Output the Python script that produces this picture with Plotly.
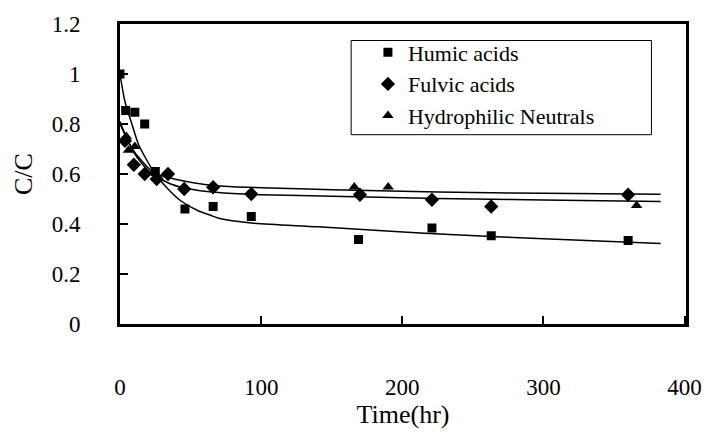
import plotly.graph_objects as go

# ---- measured data ----
humic_x = [0, 4, 10.5, 17.5, 25, 46, 66, 93, 169, 221, 263, 360]
humic_y = [1.0, 0.854, 0.847, 0.80, 0.61, 0.46, 0.47, 0.43, 0.338, 0.384, 0.353, 0.334]

fulvic_x = [3.5, 9.8, 17.5, 26, 34, 45.5, 66, 93, 170, 221, 263, 360]
fulvic_y = [0.733, 0.637, 0.60, 0.58, 0.60, 0.54, 0.547, 0.52, 0.517, 0.497, 0.47, 0.517]

neutral_x = [4.5, 6, 10.5, 166, 190, 366]
neutral_y = [0.75, 0.695, 0.71, 0.548, 0.548, 0.474]

# fitted curves
humic_fit_x = [0, 3.5, 8.4, 13, 17.5, 25, 34, 43, 55, 64, 70, 93, 140, 186, 237, 300, 383]
humic_fit_y = [1.0, 0.89, 0.80, 0.72, 0.67, 0.60, 0.54, 0.493, 0.454, 0.435, 0.423, 0.404, 0.389, 0.373, 0.357, 0.341, 0.322]

fulvic_fit_x = [0, 5, 10, 15, 20, 26, 35, 45, 60, 80, 100, 150, 200, 250, 300, 383]
fulvic_fit_y = [0.81, 0.74, 0.685, 0.645, 0.615, 0.59, 0.562, 0.545, 0.531, 0.522, 0.517, 0.511, 0.505, 0.50, 0.496, 0.490]

neutral_fit_x = [0, 5, 10, 15, 20, 26, 35, 45, 60, 80, 100, 150, 200, 250, 300, 383]
neutral_fit_y = [0.80, 0.74, 0.69, 0.655, 0.625, 0.60, 0.585, 0.572, 0.558, 0.549, 0.545, 0.537, 0.531, 0.526, 0.523, 0.519]

x_ticks = [0, 100, 200, 300, 400]
y_ticks = [0, 0.2, 0.4, 0.6, 0.8, 1.0, 1.2]
y_tick_text = ["0", "0.2", "0.4", "0.6", "0.8", "1", "1.2"]

FONT = "Liberation Serif, Times New Roman, serif"

fig = go.Figure()
line_style = dict(color="black", width=1.5, shape="spline", smoothing=0.8)
for fx, fy in [(humic_fit_x, humic_fit_y), (fulvic_fit_x, fulvic_fit_y), (neutral_fit_x, neutral_fit_y)]:
    fig.add_trace(go.Scatter(x=fx, y=fy, mode="lines", line=line_style,
                             showlegend=False, hoverinfo="skip"))

fig.add_trace(go.Scatter(x=humic_x, y=humic_y, mode="markers", name="Humic acids",
                         marker=dict(symbol="square", size=9, color="black")))
fig.add_trace(go.Scatter(x=fulvic_x, y=fulvic_y, mode="markers", name="Fulvic acids",
                         marker=dict(symbol="diamond", size=11, color="black")))
fig.add_trace(go.Scatter(x=neutral_x, y=neutral_y, mode="markers", name="Hydrophilic Neutrals",
                         marker=dict(symbol="triangle-up", size=10, color="black")))

fig.update_layout(
    width=714, height=436,
    margin=dict(l=120, r=21, t=18, b=109),
    paper_bgcolor="white", plot_bgcolor="white",
    font=dict(family=FONT, color="black", size=23),
    showlegend=True,
    legend=dict(x=0.408, y=0.975, xanchor="left", yanchor="top",
                bgcolor="rgba(0,0,0,0)", borderwidth=0,
                font=dict(family=FONT, size=22, color="black"),
                indentation=17, itemwidth=30),
    xaxis=dict(range=[0, 401], tickvals=x_ticks, ticktext=[str(v) for v in x_ticks],
               tickfont=dict(family=FONT, size=23, color="black"),
               showgrid=False, zeroline=False, showline=True, linecolor="black",
               linewidth=3, mirror=True, ticks="inside", ticklen=8, tickwidth=2,
               tickcolor="black", ticklabelstandoff=40,
               title=dict(text="Time(hr)", font=dict(family=FONT, size=26, color="black"), standoff=6)),
    yaxis=dict(range=[0, 1.2], tickvals=y_ticks, ticktext=y_tick_text,
               tickfont=dict(family=FONT, size=23, color="black"),
               showgrid=False, zeroline=False, showline=True, linecolor="black",
               linewidth=3, mirror=True, ticks="inside", ticklen=8, tickwidth=2,
               tickcolor="black", ticklabelstandoff=32,
               title=dict(text="C/C", font=dict(family=FONT, size=26, color="black"), standoff=12)),
    shapes=[dict(type="rect", xref="paper", yref="paper",
                 x0=(354 - 120) / 573, x1=(658 - 120) / 573,
                 y0=(327 - 132) / 309, y1=(327 - 35) / 309,
                 line=dict(color="black", width=1), fillcolor="rgba(0,0,0,0)")],
)

fig.write_html("out.html")
